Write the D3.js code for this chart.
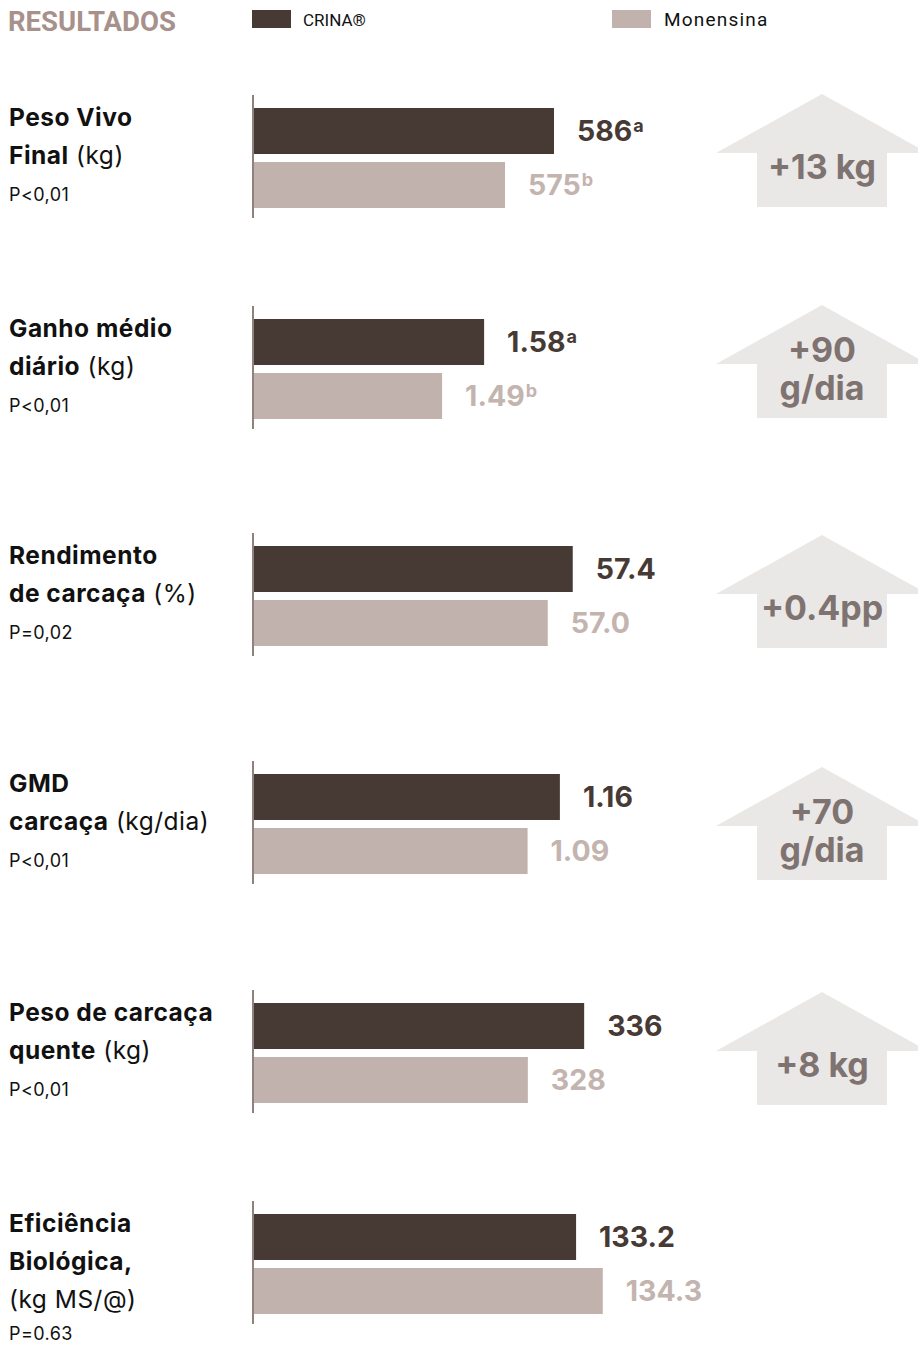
<!DOCTYPE html>
<html>
<head>
<meta charset="utf-8">
<script src="https://cdn.jsdelivr.net/npm/d3@7"></script>
<style>
  html, body { margin: 0; padding: 0; background: #ffffff; }
  svg { display: block; }
</style>
</head>
<body>
<svg id="chart" width="918" height="1345"></svg>
<script>
// ---------- DATA ----------
const seriesNames = ["CRINA®", "Monensina"];
const metricLines = [
  [["Peso Vivo", ""], ["Final", " (kg)"]],
  [["Ganho médio", ""], ["diário", " (kg)"]],
  [["Rendimento", ""], ["de carcaça", " (%)"]],
  [["GMD", ""], ["carcaça", " (kg/dia)"]],
  [["Peso de carcaça", ""], ["quente", " (kg)"]],
  [["Eficiência", ""], ["Biológica,", ""], ["", "(kg MS/@)"]]
];
const pValues = ["P<0,01", "P<0,01", "P=0,02", "P<0,01", "P<0,01", "P=0.63"];
const crinaValues = [586, 1.58, 57.4, 1.16, 336, 133.2];
const monensinaValues = [575, 1.49, 57.0, 1.09, 328, 134.3];
const valueDecimals = [0, 2, 1, 2, 0, 1];
const crinaLetters = ["a", "a", "", "", "", ""];
const monensinaLetters = ["b", "b", "", "", "", ""];
const axisMin = [518.65, 1.087, 52.30, 0.497, 289.1, 119.93];
const axisMax = [608.45, 1.944, 58.70, 1.364, 345.92, 136.41];
const gainLabels = [["+13 kg"], ["+90", "g/dia"], ["+0.4pp"], ["+70", "g/dia"], ["+8 kg"], null];

// ---------- LAYOUT / STYLE ----------
const panelTop = [108, 319, 546, 774, 1003, 1214];
const arrowDy = [-14, -14, -11, -7, -11, 0];
const legendFontSize = [17, 19];
const legendSpacing = [0, 1.2];
const colors = { crina: "#473a35", mon: "#c2b2ae", axis: "#8f817d", arrow: "#e9e8e6", arrowText: "#7f7371", title: "#a8918b", monText: "#c4b4af" };
const barX0 = 254, barW = 400;
const labelFont = "Inter, 'DejaVu Sans', sans-serif";

const svg = d3.select("#chart");

// Header
svg.append("text").attr("x", 8).attr("y", 31)
  .attr("font-family", "Roboto, sans-serif").attr("font-weight", 700)
  .attr("font-size", 27.5).attr("fill", colors.title)
  .text("RESULTADOS");

const legendX = d3.scaleOrdinal().domain(seriesNames).range([252, 612]);
const legendC = d3.scaleOrdinal().domain(seriesNames).range([colors.crina, colors.mon]);
const lg = svg.append("g").selectAll("g").data(seriesNames).join("g")
  .attr("transform", d => `translate(${legendX(d)},10)`);
lg.append("rect").attr("width", 39).attr("height", 18).attr("fill", d => legendC(d));
lg.append("text").attr("x", (d, k) => k === 0 ? 51 : 52).attr("y", 16)
  .attr("font-family", "Roboto, sans-serif")
  .attr("font-size", (d, k) => legendFontSize[k])
  .attr("letter-spacing", (d, k) => legendSpacing[k])
  .attr("fill", "#111")
  .text(d => d);

const yBand = d3.scaleBand().domain(seriesNames).range([0, 100]).paddingInner(0.148).paddingOuter(0);

crinaValues.forEach((cv, i) => {
  const g = svg.append("g").attr("transform", `translate(0,${panelTop[i]})`);
  const x = d3.scaleLinear().domain([axisMin[i], axisMax[i]]).range([barX0, barX0 + barW]);
  const vals = [cv, monensinaValues[i]];
  const letters = [crinaLetters[i], monensinaLetters[i]];
  const fmt = d3.format(`.${valueDecimals[i]}f`);

  // Left labels
  const lines = metricLines[i];
  lines.forEach((ln, j) => {
    const t = g.append("text").attr("x", 9).attr("y", 18 + j * 38)
      .attr("font-family", labelFont).attr("font-size", 24.5)
      .attr("letter-spacing", 0.5).attr("fill", "#111");
    if (ln[0]) t.append("tspan").attr("font-weight", 700).text(ln[0]);
    if (ln[1]) t.append("tspan").attr("font-weight", 400).text(ln[1]);
  });
  g.append("text").attr("x", 9).attr("y", 18 + lines.length * 38 - 1 - (lines.length > 2 ? 5 : 0))
    .attr("font-family", labelFont).attr("font-size", 18).attr("letter-spacing", 0.4).attr("fill", "#111")
    .text(pValues[i]);

  // Bars
  g.selectAll("rect.bar").data(vals).join("rect").attr("class", "bar")
    .attr("x", barX0).attr("y", (d, k) => yBand(seriesNames[k]))
    .attr("width", d => x(d) - barX0).attr("height", yBand.bandwidth())
    .attr("fill", (d, k) => legendC(seriesNames[k]));

  // Axis line
  g.append("line").attr("x1", 253).attr("x2", 253).attr("y1", -13).attr("y2", 110)
    .attr("stroke", colors.axis).attr("stroke-width", 2);

  // Value labels
  g.selectAll("text.val").data(vals).join("text").attr("class", "val")
    .attr("x", d => x(d) + 23)
    .attr("y", (d, k) => yBand(seriesNames[k]) + yBand.bandwidth() / 2 + 10)
    .attr("font-family", labelFont).attr("font-weight", 700).attr("font-size", 28.5)
    .attr("fill", (d, k) => k === 0 ? colors.crina : colors.monText)
    .each(function (d, k) {
      const t = d3.select(this);
      t.append("tspan").text(fmt(d));
      if (letters[k]) t.append("tspan").attr("font-size", 18).attr("dx", 1).attr("dy", -9).text(letters[k]);
    });

  // Arrow
  const gl = gainLabels[i];
  if (gl) {
    const tip = arrowDy[i];
    const cx = 822;
    const path = d3.path();
    path.moveTo(cx, tip);
    path.lineTo(cx + 106, tip + 59);
    path.lineTo(cx + 65, tip + 59);
    path.lineTo(cx + 65, tip + 113);
    path.lineTo(cx - 65, tip + 113);
    path.lineTo(cx - 65, tip + 59);
    path.lineTo(cx - 106, tip + 59);
    path.closePath();
    g.append("path").attr("d", path.toString()).attr("fill", colors.arrow);
    const ys = gl.length === 1 ? [tip + 85] : [tip + 57, tip + 95];
    gl.forEach((s, j) => {
      g.append("text").attr("x", cx).attr("y", ys[j]).attr("text-anchor", "middle")
        .attr("font-family", labelFont).attr("font-weight", 700).attr("font-size", 34)
        .attr("fill", colors.arrowText).text(s);
    });
  }
});
</script>
</body>
</html>
